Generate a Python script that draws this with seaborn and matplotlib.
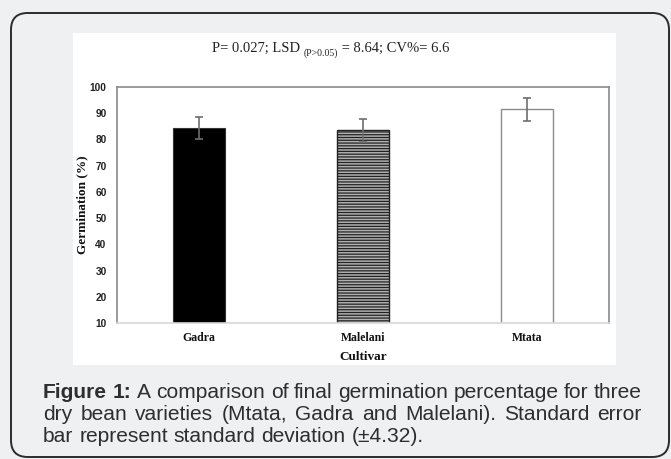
import matplotlib
matplotlib.use("Agg")
import matplotlib.pyplot as plt
from matplotlib.patches import Rectangle, FancyBboxPatch
import seaborn as sns
import pandas as pd

# ---- data ----
cultivars = ["Gadra", "Malelani", "Mtata"]
germination = [84.4, 83.5, 91.5]
std_dev = [4.32, 4.32, 4.32]
y_ticks = [10, 20, 30, 40, 50, 60, 70, 80, 90, 100]
title_main = "P= 0.027; LSD "
title_sub = "(P>0.05)"
title_end = " = 8.64; CV%= 6.6"
caption_lines = [
    [("Figure 1:", "bold"), ("A comparison of final germination percentage for three", "normal")],
    [("dry bean varieties (Mtata, Gadra and Malelani). Standard error", "normal")],
    [("bar represent standard deviation (\u00b14.32).", "normal")],
]

W, H = 671, 459
DPI = 100
sns.set_theme(style="white")
plt.rcParams["font.family"] = ["DejaVu Sans"]
plt.rcParams["hatch.linewidth"] = 0.9

cap_font = "Liberation Sans"

fig = plt.figure(figsize=(W / DPI, H / DPI), dpi=DPI)
fig.patch.set_facecolor("#eef0f2")

def fx(px):
    return px / W

def fy(py):
    return 1 - py / H

frame = FancyBboxPatch((fx(11), fy(457)), fx(669) - fx(11), fy(13) - fy(457),
                       boxstyle="round,pad=0,rounding_size=0.025",
                       transform=fig.transFigure, facecolor="none",
                       edgecolor="#2b2b2b", linewidth=1.4, mutation_aspect=W / H,
                       zorder=-1)
fig.patches.append(frame)
fig.patches.append(Rectangle((fx(73), fy(365)), fx(616) - fx(73), fy(33) - fy(365),
                             transform=fig.transFigure, facecolor="white",
                             edgecolor="none", zorder=-2))

ax = fig.add_axes([fx(117), fy(323), fx(609) - fx(117), fy(87) - fy(323)])
ax.set_facecolor("white")

df = pd.DataFrame({"Cultivar": cultivars, "Germination": germination, "sd": std_dev})
palette = {"Gadra": "black", "Malelani": "#9c9c9c", "Mtata": "white"}
sns.barplot(data=df, x="Cultivar", y="Germination", hue="Cultivar", palette=palette,
            width=0.317, legend=False, ax=ax, errorbar=None)

bars = list(ax.patches)
for b, c in zip(bars, cultivars):
    if c == "Gadra":
        b.set_edgecolor("#333333")
        b.set_linewidth(0.8)
    elif c == "Malelani":
        b.set_facecolor("#b0b0b0")
        b.set_hatch("------")
        b.set_edgecolor("#222222")
        b.set_linewidth(1.0)
    else:
        b.set_edgecolor("#8c8c8c")
        b.set_linewidth(1.0)

centers = [b.get_x() + b.get_width() / 2 for b in bars]
tops = [b.get_height() for b in bars]
ax.errorbar(centers, tops, yerr=df["sd"], fmt="none", ecolor="#6e6e6e",
            elinewidth=1.2, capsize=3, capthick=1.2, zorder=5)

ax.set_ylim(10, 100)
ax.set_yticks(y_ticks)
ax.set_xlim(-0.5, 2.5)
ax.tick_params(axis="both", length=0)
ax.tick_params(axis="y", pad=7.5)
ax.tick_params(axis="x", pad=6.5)
for lab in ax.get_yticklabels():
    lab.set_fontfamily("Liberation Sans")
    lab.set_fontweight("bold")
    lab.set_fontsize(7.3)
    lab.set_color("#222222")
for lab in ax.get_xticklabels():
    lab.set_fontfamily("Liberation Serif")
    lab.set_fontweight("bold")
    lab.set_fontsize(8.5)
    lab.set_color("#111111")

ax.set_ylabel("Germination (%)", fontfamily="Liberation Serif", fontweight="bold",
              fontsize=9.5, color="#111111")
ax.set_xlabel("Cultivar", fontfamily="Liberation Serif", fontweight="bold",
              fontsize=9.5, color="#111111")
ax.yaxis.set_label_coords(-0.058, 0.5)
ax.xaxis.set_label_coords(0.5, -0.118)

for s in ["left", "top", "right"]:
    ax.spines[s].set_color("#8a8a8a")
    ax.spines[s].set_linewidth(1.2)
ax.spines["bottom"].set_color("#d8d8d8")
ax.spines["bottom"].set_linewidth(1.2)

# title with subscript
t1 = fig.text(fx(212), fy(52), title_main, fontfamily="Liberation Serif",
              fontsize=10.5, color="#222222", ha="left", va="baseline")
t2 = ax.annotate(title_sub, xy=(1, 0), xycoords=t1, xytext=(0, -2.5),
                 textcoords="offset points", fontfamily="Liberation Serif",
                 fontsize=7, color="#222222", ha="left", va="bottom",
                 annotation_clip=False)
t3 = ax.annotate(title_end, xy=(1, 0), xycoords=t2, xytext=(0, 2.5),
                 textcoords="offset points", fontfamily="Liberation Serif",
                 fontsize=10.5, color="#222222", ha="left", va="bottom",
                 annotation_clip=False)

# caption, justified
renderer = fig.canvas.get_renderer()
cap_color = "#2e2e2e"
x0, x1 = 43, 642
baselines = [398, 420, 442]

def width_of(s, fs, wt="normal"):
    t = fig.text(0, 0, s, fontsize=fs, fontfamily=cap_font, fontweight=wt)
    w = t.get_window_extent(renderer).width
    t.remove()
    return w

line1 = " ".join(t for t, _ in caption_lines[0])
fs = 13.0 * (x1 - x0 - 6) / width_of(line1, 13.0)

def words_of(line):
    out = []
    for txt, wt in line:
        for w in txt.split(" "):
            out.append((w, wt))
    return out

for i, line in enumerate(caption_lines):
    words = words_of(line)
    widths = [width_of(w, fs, wt) for w, wt in words]
    if i < len(caption_lines) - 1:
        gap = (x1 - x0 - sum(widths)) / (len(words) - 1)
    else:
        gap = width_of("a a", fs) - width_of("aa", fs)
    x = x0
    for (w, wt), wd in zip(words, widths):
        fig.text(fx(x), fy(baselines[i]), w, fontsize=fs, color=cap_color,
                 fontfamily=cap_font, fontweight=wt,
                 ha="left", va="baseline")
        x += wd + gap

fig.savefig("out.png", dpi=DPI, facecolor=fig.get_facecolor())
